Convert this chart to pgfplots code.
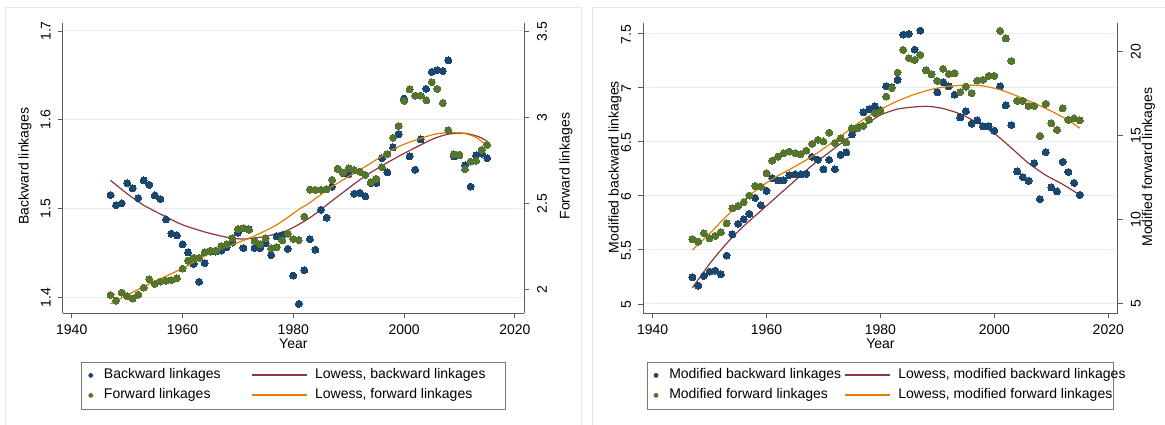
\documentclass[border=0pt]{standalone}
\usepackage{fontspec}
\setmainfont{Liberation Sans}
\usepackage{pgfplots}
\usepackage{pgfplotstable}
\pgfplotsset{compat=1.18}

\definecolor{stnavy}{HTML}{1A476F}
\definecolor{stgreen}{HTML}{55752F}
\definecolor{stmaroon}{HTML}{90353B}
\definecolor{storange}{HTML}{E37E00}
\definecolor{gridc}{HTML}{E6EEF1}
\definecolor{axisc}{HTML}{5C5C5C}
\definecolor{framec}{HTML}{E1E9EC}
\definecolor{legc}{HTML}{7A7A7A}
\newcommand\chartfont{\fontsize{14}{16}\selectfont}

% backward (b) and forward (f) linkages by year
\pgfplotstableread{
yr b f
1947 1.5155 1.967
1948 1.504 1.934
1949 1.506 1.981
1950 1.529 1.959
1951 1.523 1.946
1952 1.512 1.969
1953 1.532 2.010
1954 1.527 2.058
1955 1.515 2.031
1956 1.511 2.045
1957 1.488 2.050
1958 1.472 2.054
1959 1.470 2.064
1960 1.460 2.120
1961 1.451 2.167
1962 1.438 2.183
1963 1.418 2.183
1964 1.439 2.216
1965 1.452 2.225
1966 1.452 2.225
1967 1.453 2.252
1968 1.457 2.262
1969 1.462 2.297
1970 1.473 2.351
1971 1.456 2.355
1972 1.477 2.346
1973 1.456 2.282
1974 1.456 2.262
1975 1.461 2.297
1976 1.448 2.239
1977 1.469 2.245
1978 1.470 2.285
1979 1.455 2.324
1980 1.425 2.293
1981 1.393 2.287
1982 1.431 2.423
1983 1.466 2.581
1984 1.454 2.579
1985 1.499 2.579
1986 1.490 2.583
1987 1.525 2.637
1988 1.545 2.701
1989 1.540 2.680
1990 1.539 2.705
1991 1.517 2.695
1992 1.518 2.685
1993 1.514 2.666
1994 1.529 2.623
1995 1.529 2.643
1996 1.557 2.711
1997 1.541 2.788
1998 1.569 2.883
1999 1.584 2.951
2000 1.624 3.097
2001 1.559 3.165
2002 1.544 3.128
2003 1.578 3.128
2004 1.635 3.101
2005 1.654 3.206
2006 1.656 3.167
2007 1.655 3.085
2008 1.667 2.926
2009 1.559 2.786
2010 1.560 2.783
2011 1.549 2.699
2012 1.525 2.744
2013 1.560 2.748
2014 1.562 2.812
2015 1.557 2.841
}\linkdata

% modified backward (b) and modified forward (f) linkages by year
\pgfplotstableread{
yr b f
1947 5.247 8.815
1948 5.170 8.676
1949 5.259 9.172
1950 5.299 8.874
1951 5.308 9.013
1952 5.274 9.232
1953 5.447 9.768
1954 5.644 10.663
1955 5.740 10.80
1956 5.783 11.02
1957 5.832 11.42
1958 5.980 11.99
1959 5.912 11.95
1960 6.045 12.75
1961 6.162 13.50
1962 6.141 13.74
1963 6.141 13.94
1964 6.190 14.04
1965 6.196 13.94
1966 6.196 13.88
1967 6.202 14.10
1968 6.359 14.50
1969 6.332 14.74
1970 6.245 14.64
1971 6.332 15.17
1972 6.245 14.54
1973 6.378 14.83
1974 6.400 14.58
1975 6.566 15.43
1976 6.630 15.43
1977 6.769 15.57
1978 6.800 15.93
1979 6.825 16.33
1980 6.788 16.42
1981 7.010 17.32
1982 7.000 17.82
1983 7.071 18.75
1984 7.488 20.10
1985 7.494 19.60
1986 7.349 19.50
1987 7.525 19.80
1988 7.160 18.87
1989 7.120 18.65
1990 6.954 18.25
1991 7.047 18.97
1992 7.010 18.67
1993 6.933 18.71
1994 6.723 17.58
1995 6.779 17.91
1996 6.665 17.52
1997 6.695 18.27
1998 6.640 18.31
1999 6.640 18.55
2000 6.600 18.55
2001 7.010 21.23
2002 6.834 20.78
2003 6.652 19.44
2004 6.224 17.06
2005 6.171 17.06
2006 6.137 16.76
2007 6.301 16.76
2008 5.968 14.97
2009 6.403 16.88
2010 6.076 15.73
2011 6.039 15.33
2012 6.313 16.62
2013 6.219 15.93
2014 6.118 16.01
2015 6.007 15.90
}\moddata

% lowess smooths
\pgfplotstableread{
yr v
1947 1.532
1950 1.517
1953 1.504
1957 1.491
1960 1.482
1964 1.474
1968 1.468
1971 1.466
1975 1.469
1979 1.476
1983 1.490
1987 1.509
1993 1.537
1999 1.559
2005 1.578
2008 1.584
2011 1.585
2013.5 1.581
2015 1.576
}\lowbwd

\pgfplotstableread{
yr v
1947 1.915
1953 2.016
1960 2.122
1965 2.210
1972 2.297
1977 2.375
1981 2.465
1983 2.505
1987 2.598
1993 2.715
1999 2.831
2005 2.899
2008 2.913
2010.7 2.909
2013 2.885
2015 2.835
}\lowfwd

\pgfplotstableread{
yr v
1947 5.15
1950 5.37
1953 5.56
1956 5.72
1959 5.86
1962 6.00
1965 6.14
1968 6.28
1971 6.40
1974 6.52
1977 6.64
1980 6.745
1983 6.80
1986 6.82
1988.5 6.825
1991 6.805
1994 6.755
1997 6.675
2000 6.575
2003 6.44
2006 6.30
2009 6.19
2012 6.105
2015 6.007
}\lowmodbwd

\pgfplotstableread{
yr v
1947 8.18
1950 9.15
1953 10.2
1956 11.15
1959 11.95
1962 12.6
1965 13.15
1968 13.75
1971 14.45
1974 15.2
1977 15.95
1980 16.55
1983 17.05
1986 17.45
1989 17.75
1992 17.93
1995 18.0
1998 17.95
2001 17.72
2004 17.35
2007 16.92
2010 16.45
2013 15.9
2015 15.43
}\lowmodfwd

\pgfplotsset{
  panel/.style={
    scale only axis, anchor=south west,
    height=290.3pt,
    xmin=1938.37, xmax=2021.65,
    tick align=outside, major tick length=5pt,
    tick style={axisc, line width=0.9pt},
    axis line style={axisc, line width=0.9pt},
    /pgf/number format/assume math mode=true,
    /pgf/number format/1000 sep={},
    tick label style={font=\chartfont, text=black, inner sep=0pt},
    label style={font=\chartfont, inner sep=0pt},
  },
  leftside/.style={
    axis x line*=bottom, axis y line*=left,
    xtick={1940,1960,1980,2000,2020},
    ymajorgrids, grid style={gridc, line width=1pt},
    xticklabel style={anchor=base, yshift=-16.7pt},
    yticklabel style={xshift=-7pt, rotate=90, anchor=south},
    every axis x label/.style={at={(axis description cs:0.5,0)}, anchor=base, yshift=-35.7pt},
    xlabel={Year},
  },
  rightside/.style={
    axis x line=none, axis y line*=right, xtick=\empty,
    yticklabel style={xshift=8pt, rotate=90, anchor=north},
  },
  dots/.style={only marks, mark=*, mark size=3.5pt, mark options={draw=#1, fill=#1, line width=0pt}},
  smoothline/.style={#1, line width=1.2pt, no marks, smooth, tension=0.4},
  keystyle/.style={
    legend columns=2, legend cell align=left,
    legend style={at={(axis description cs:0.5,0)}, anchor=north, yshift=-48.4pt,
      draw=legc, fill=white, inner xsep=0pt, inner ysep=7pt,
      column sep=0pt, row sep=7pt, font=\chartfont,
      nodes={inner sep=0pt, text height=10pt, text depth=3pt, anchor=west}},
  },
  % key symbols: a dot, or a short bar standing for a line, with explicit padding
  keydot/.style 2 args={legend image code/.code={\path (-#2,0pt) (13pt,0pt); \path[fill=#1, draw=none] (0pt,0pt) circle (2.4pt);}},
  keyline/.style 2 args={legend image code/.code={\path[fill=#1, draw=none] (0pt,-1pt) rectangle (#2,1pt); \path (#2+8pt,0pt);}},
}

\begin{document}
\chartfont
\begin{tikzpicture}
\useasboundingbox (0pt,0pt) rectangle (1165pt,425pt);
% light frames of the two graph regions
\draw[framec, line width=1pt] (5.7pt,0pt) -- (5.7pt,417.7pt) -- (581.7pt,417.7pt) -- (581.7pt,0pt);
\draw[framec, line width=1pt] (592.7pt,0pt) -- (592.7pt,417.7pt) -- (1165pt,417.7pt);

% ---------- left panel: backward linkages (left axis) ----------
\begin{axis}[panel, leftside, at={(62.7pt,111.7pt)}, width=461.3pt,
  ymin=1.3825, ymax=1.709, ytick={1.4,1.5,1.6,1.7},
  every axis y label/.style={at={(axis description cs:0,0.5)}, anchor=base, xshift=-34.1pt, yshift=2pt, rotate=90},
  ylabel={Backward linkages}]
\addplot[dots=stnavy] table[x=yr, y=b] {\linkdata};
\addplot[smoothline=stmaroon] table[x=yr, y=v] {\lowbwd};
\end{axis}
% forward linkages (right axis) and key
\begin{axis}[panel, rightside, keystyle, at={(62.7pt,111.7pt)}, width=461.3pt,
  ymin=1.8602, ymax=3.551, ytick={2,2.5,3,3.5},
  every axis y label/.style={at={(axis description cs:1,0.5)}, anchor=base, xshift=45.5pt, yshift=2pt, rotate=90},
  ylabel={Forward linkages}]
\addplot[dots=stgreen, forget plot] table[x=yr, y=f] {\linkdata};
\addplot[smoothline=storange, forget plot] table[x=yr, y=v] {\lowfwd};
\addlegendimage{keydot={stnavy}{9pt}}
\addlegendentry{\makebox[148pt][l]{Backward linkages}}
\addlegendimage{keyline={stmaroon}{55pt}}
\addlegendentry{\makebox[190pt][l]{Lowess, backward linkages}}
\addlegendimage{keydot={stgreen}{9pt}}
\addlegendentry{\makebox[148pt][l]{Forward linkages}}
\addlegendimage{keyline={storange}{55pt}}
\addlegendentry{\makebox[190pt][l]{Lowess, forward linkages}}
\end{axis}

% ---------- right panel: modified backward linkages (left axis) ----------
\begin{axis}[panel, leftside, at={(643.3pt,111.7pt)}, width=474.4pt,
  ymin=4.914, ymax=7.595, ytick={5,5.5,6,6.5,7,7.5},
  yticklabel style={xshift=-1pt},
  every axis y label/.style={at={(axis description cs:0,0.5)}, anchor=base, xshift=-24.6pt, yshift=1pt, rotate=90},
  ylabel={Modified backward linkages}]
\addplot[dots=stnavy] table[x=yr, y=b] {\moddata};
\addplot[smoothline=stmaroon] table[x=yr, y=v] {\lowmodbwd};
\end{axis}
% modified forward linkages (right axis) and key
\begin{axis}[panel, rightside, keystyle, at={(643.3pt,111.7pt)}, width=474.4pt,
  ymin=4.404, ymax=21.70, ytick={5,10,15,20},
  every axis y label/.style={at={(axis description cs:1,0.5)}, anchor=base, xshift=34.3pt, yshift=1pt, rotate=90},
  ylabel={Modified forward linkages}]
\addplot[dots=stgreen, forget plot] table[x=yr, y=f] {\moddata};
\addplot[smoothline=storange, forget plot] table[x=yr, y=v] {\lowmodfwd};
\addlegendimage{keydot={stnavy}{8.5pt}}
\addlegendentry{\makebox[175.3pt][l]{Modified backward linkages}}
\addlegendimage{keyline={stmaroon}{45.6pt}}
\addlegendentry{\makebox[215.3pt][l]{Lowess, modified backward linkages}}
\addlegendimage{keydot={stgreen}{8.5pt}}
\addlegendentry{\makebox[175.3pt][l]{Modified forward linkages}}
\addlegendimage{keyline={storange}{45.6pt}}
\addlegendentry{\makebox[215.3pt][l]{Lowess, modified forward linkages}}
\end{axis}
\end{tikzpicture}
\end{document}
